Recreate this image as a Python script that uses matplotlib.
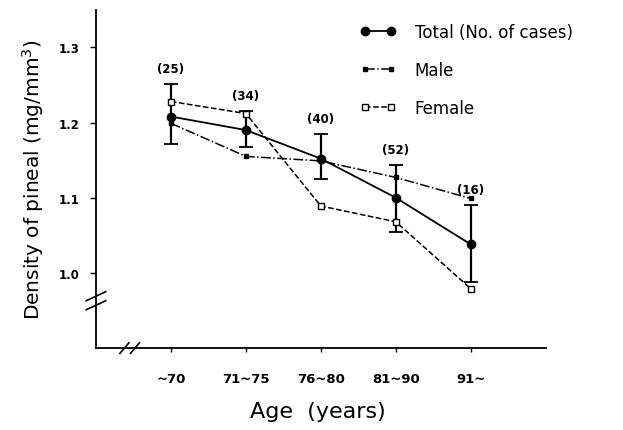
import matplotlib
matplotlib.use("Agg")
import matplotlib.pyplot as plt
import numpy as np

# data
ages = ["~70", "71~75", "76~80", "81~90", "91~"]
n_cases = [25, 34, 40, 52, 16]
total = [1.208, 1.190, 1.152, 1.100, 1.038]
total_hi = [1.251, 1.215, 1.185, 1.143, 1.090]
total_lo = [1.172, 1.167, 1.125, 1.055, 0.988]
male = [1.199, 1.155, 1.149, 1.127, 1.099]
female = [1.228, 1.212, 1.089, 1.068, 0.979]

x = np.arange(1, len(ages) + 1)
total = np.array(total)
yerr = [total - np.array(total_lo), np.array(total_hi) - total]

fig = plt.figure(figsize=(6.23, 4.31), dpi=100)
ax = fig.add_axes([0.154, 0.190, 0.722, 0.785])

ax.errorbar(x, total, yerr=yerr, fmt="none", ecolor="black", elinewidth=1.6,
            capsize=5, capthick=1.3, zorder=3)
l_tot, = ax.plot(x, total, "-", color="black", lw=1.3, marker="o", ms=6, zorder=4)
l_male, = ax.plot(x, male, "-.", color="black", lw=1.1, marker="s", ms=3.5, zorder=4)
l_fem, = ax.plot(x, female, "--", color="black", lw=1.1, marker="s", ms=4,
                 mfc="white", mec="black", mew=1, zorder=4)

for xi, hi, n in zip(x, total_hi, n_cases):
    ax.text(xi, hi + 0.012, f"({n})", ha="center", va="bottom", fontsize=8.5,
            fontweight="bold")

ax.set_xlim(0, 6)
ax.set_ylim(0.9, 1.35)
ax.set_xticks(x)
ax.set_xticklabels(ages, fontsize=9.5, fontweight="bold")
ax.set_yticks([1.0, 1.1, 1.2, 1.3])
ax.set_yticklabels(["1.0", "1.1", "1.2", "1.3"], fontsize=8.5, fontweight="bold")
ax.tick_params(axis="y", direction="out", length=4, width=1, pad=8)
ax.tick_params(axis="x", direction="out", length=3, width=1, pad=14)
for s in ["top", "right"]:
    ax.spines[s].set_visible(False)
for s in ["left", "bottom"]:
    ax.spines[s].set_linewidth(1.3)

ax.set_ylabel("Density of pineal (mg/mm$^3$)", fontsize=14.5)
ax.yaxis.set_label_coords(-0.11, 0.5)
ax.set_xlabel("Age  (years)", fontsize=16)
ax.xaxis.set_label_coords(0.493, -0.155)

# axis break marks
for dy in (-0.006, 0.006):
    ax.plot([-0.13, 0.13], [0.963 + dy - 0.006, 0.963 + dy + 0.006], color="black",
            lw=1.2, clip_on=False)
for dx in (-0.07, 0.07):
    ax.plot([0.45 + dx - 0.06, 0.45 + dx + 0.06], [0.893, 0.907], color="black",
            lw=1.2, clip_on=False)

ax.legend([l_tot, l_male, l_fem], ["Total (No. of cases)", "Male", "Female"],
          loc="upper left", bbox_to_anchor=(0.553, 1.006), frameon=False,
          fontsize=12, handlelength=2.2, labelspacing=1.2, handletextpad=1.1,
          numpoints=2)

fig.savefig("out.png", dpi=100)
